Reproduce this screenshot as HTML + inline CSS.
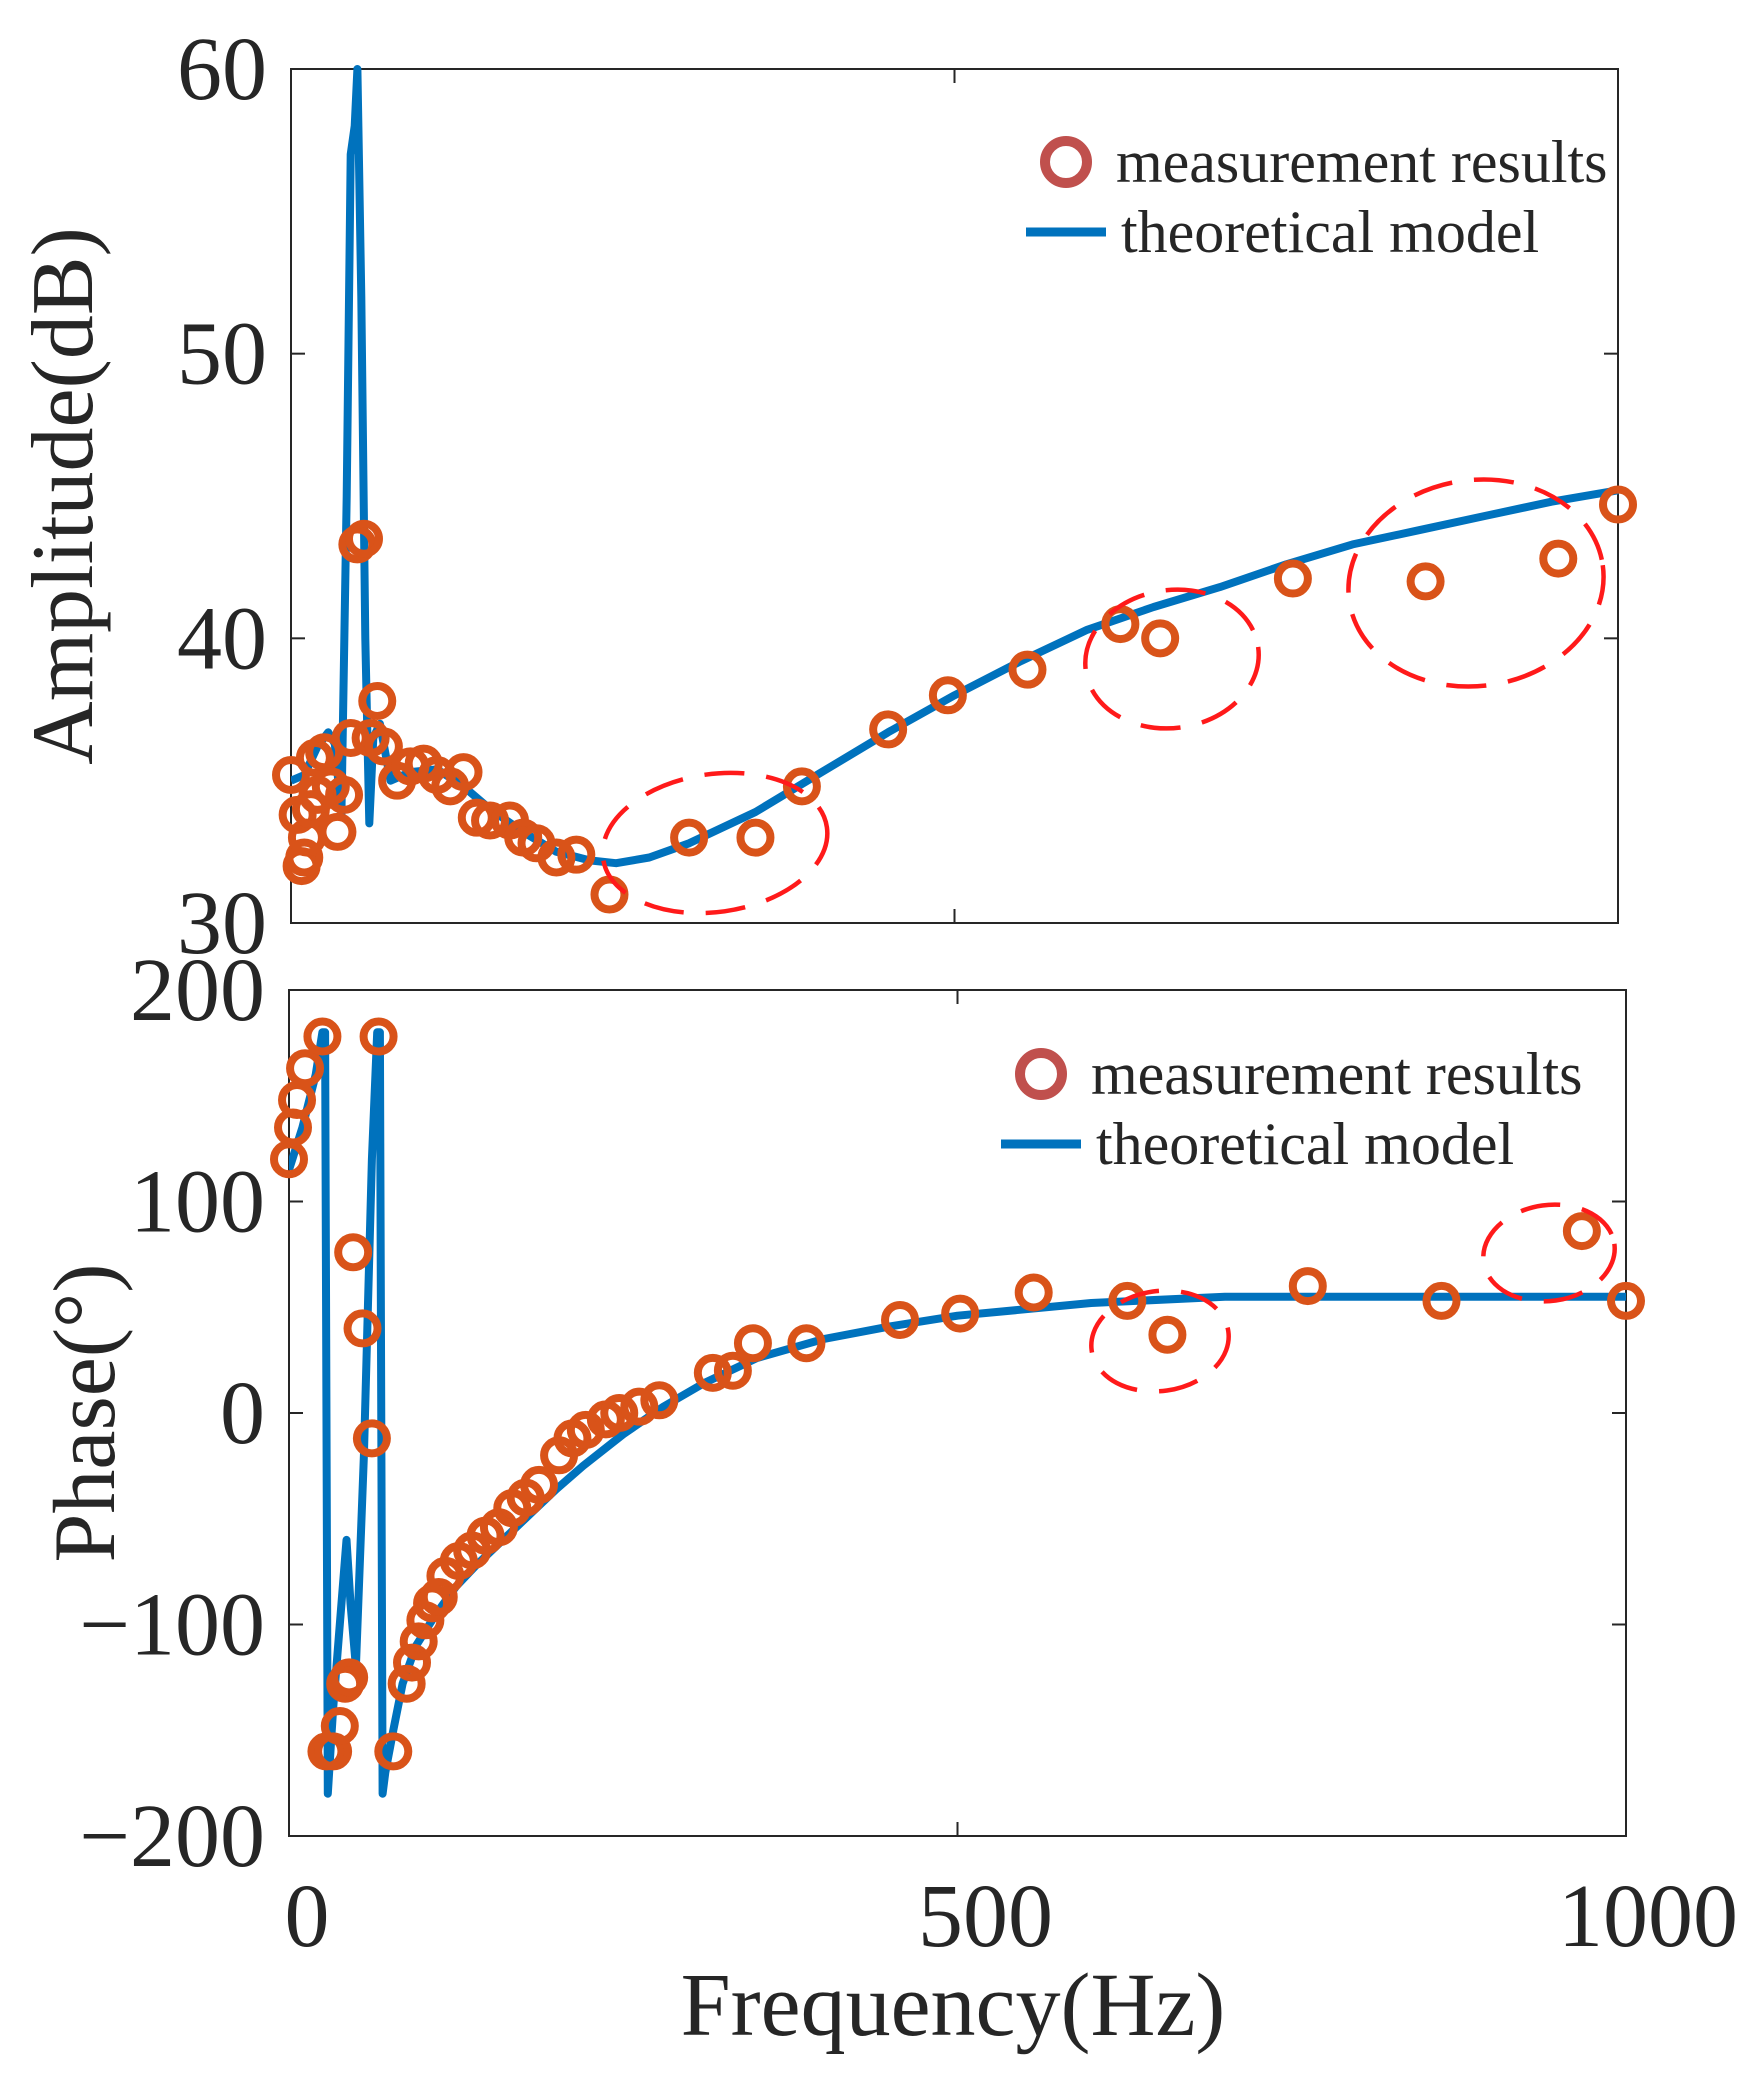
<!DOCTYPE html>
<html><head><meta charset="utf-8"><style>
html,body{margin:0;padding:0;background:#fff}
svg{display:block}
text{font-family:"Liberation Serif",serif;fill:#262626}
</style></head><body>
<svg width="1761" height="2073" viewBox="0 0 1761 2073" xmlns="http://www.w3.org/2000/svg">
<g id="g1"></g>
<g id="g2"></g>
<text x="953" y="2035" font-size="90" text-anchor="middle">Frequency(Hz)</text>
</svg>
<script>
const ampMeasHz=[0,5,8,10,12,15,18,20,25,30,35,40,45,50,55,60,65,70,80,90,100,110,120,130,140,150,165,175,185,200,215,240,300,350,385,450,495,555,625,655,755,855,955,1000];
const ampMeasDb=[35.2,33.8,32.0,32.3,33.0,34.0,35.8,34.5,36.0,34.8,33.2,34.5,36.5,43.3,43.5,36.5,37.8,36.2,35.0,35.5,35.6,35.2,34.8,35.3,33.7,33.6,33.6,33.0,32.8,32.3,32.4,31.0,33.0,33.0,34.8,36.8,38.0,38.9,40.5,40.0,42.1,42.0,42.8,44.7];
const ampModelHz=[0,10,20,28,33,38,42,45,48,50,53,56,59,62,67,75,90,110,130,150,175,200,225,245,270,300,350,400,450,500,550,600,650,700,750,800,850,900,950,1000];
const ampModelDb=[35,35.2,36.2,36.7,36.3,33.8,45,57,58,60,52,40,33.5,36.5,37,35,35.3,35.4,34.8,34,33.2,32.5,32.2,32.1,32.3,32.8,33.9,35.3,36.7,38,39.2,40.3,41.1,41.8,42.6,43.3,43.8,44.3,44.8,45.2];
const phMeasHz=[0,3,6,12,25,28,33,38,42,45,48,55,62,67,78,88,92,97,102,107,112,117,127,137,147,157,167,177,187,202,212,222,237,247,262,277,317,332,347,387,457,502,557,627,657,762,862,967,1000];
const phMeasDeg=[120,135,148,163,178,-160,-160,-148,-128,-125,76,40,-12,178,-160,-128,-118,-108,-98,-90,-87,-77,-70,-65,-58,-54,-45,-40,-34,-20,-12,-8,-3,0,3,6,19,20,33,33,44,47,57,53,37,60,53,86,53];
const phModelHz=[0,10,20,25,27,29,33,38,43,46,50,56,62,66,68,70,72,78,85,95,110,125,140,160,180,200,220,250,280,310,350,400,450,500,600,700,800,1000];
const phModelDeg=[115,135,160,180,180,-180,-140,-100,-60,-90,-120,-20,120,180,180,-180,-170,-150,-128,-110,-95,-82,-72,-60,-48,-36,-25,-10,3,14,26,35,41,46,52,55,55,55];
const ampTicks=[30,40,50,60];
const phTicks=[-200,-100,0,100,200];
const xTicks=[0,500,1000];
const NS="http://www.w3.org/2000/svg";
function mk(p,t,a){const e=document.createElementNS(NS,t);for(const k in a)e.setAttribute(k,a[k]);p.appendChild(e);return e;}
function panel(g,L,R,T,B,ymin,ymax,yt,mh,mv,lh,lv,ylab,showX,ells,leg){
 const sx=v=>L+(v-0)/(1000-0)*(R-L), sy=v=>B-(v-ymin)/(ymax-ymin)*(B-T);
 let r=mk(g,'rect',{x:L,y:T,width:R-L,height:B-T,fill:'none',stroke:'#262626','stroke-width':2});
 
 yt.forEach(v=>{const y=sy(v);
  let t=mk(g,'line',{x1:L,x2:L+14,y1:y,y2:y,stroke:'#262626','stroke-width':2});
  
  let t2=mk(g,'line',{x1:R,x2:R-14,y1:y,y2:y,stroke:'#262626','stroke-width':2});
  
  let tx=mk(g,'text',{x:L-24,y:y+30,'font-size':90,'text-anchor':'end'});tx.textContent=(v<0?'\u2212'+(-v):v);
  });
 xTicks.forEach(v=>{const x=sx(v);
  let t=mk(g,'line',{x1:x,x2:x,y1:B,y2:B-14,stroke:'#262626','stroke-width':2});
  
  let t2=mk(g,'line',{x1:x,x2:x,y1:T,y2:T+14,stroke:'#262626','stroke-width':2});
  
  if(showX){let tx=mk(g,'text',{x:x+(v==0?18:v==1000?22:28),y:B+110,'font-size':90,'text-anchor':'middle'});tx.textContent=v;
  }});
 let yl=mk(g,'text',{x:0,y:0,'font-size':88,'text-anchor':'middle',transform:`translate(${ylab[0]},${(T+B)/2}) rotate(-90)`});yl.textContent=ylab[1];
 
 let d=lh.map((h,i)=>(i?'L':'M')+sx(h).toFixed(1)+','+sy(lv[i]).toFixed(1)).join('');
 const cp=mk(g,'clipPath',{id:'c'+T});mk(cp,'rect',{x:L,y:T-6,width:R-L+8,height:B-T+12});
 let pl=mk(g,'path',{d:d,fill:'none',stroke:'#0072BD','stroke-width':8,'stroke-linejoin':'round','clip-path':`url(#c${T})`});
 
 mh.forEach((h,i)=>{let c=mk(g,'circle',{cx:sx(h),cy:sy(mv[i]),r:15,fill:'none',stroke:'#D95319','stroke-width':8});
  });
 ells.forEach(e=>{let el=mk(g,'ellipse',{cx:e[0],cy:e[1],rx:e[2],ry:e[3],fill:'none',stroke:'#FF1A1A','stroke-width':4.5,'stroke-dasharray':'40 22',transform:`rotate(-8 ${e[0]} ${e[1]})`});
  });
 let lc=mk(g,'circle',{cx:leg[0],cy:leg[1],r:21,fill:'none',stroke:'#C0504D','stroke-width':10});
 
 let t1=mk(g,'text',{x:leg[0]+50,y:leg[1]+20,'font-size':60});t1.textContent='measurement results';
 
 let ll=mk(g,'line',{x1:leg[0]-40,x2:leg[0]+40,y1:leg[1]+70,y2:leg[1]+70,stroke:'#0072BD','stroke-width':9});
 
 let t2=mk(g,'text',{x:leg[0]+55,y:leg[1]+90,'font-size':60});t2.textContent='theoretical model';
 
}
panel(document.getElementById('g1'),291,1618,69,923,30,60,ampTicks,ampMeasHz,ampMeasDb,ampModelHz,ampModelDb,[92,'Amplitude(dB)'],false,
 [[715,843,113,69],[1172,659,87,69],[1476,583,128,103]],[1066,162]);
panel(document.getElementById('g2'),289,1626,990,1836,-200,200,phTicks,phMeasHz,phMeasDeg,phModelHz,phModelDeg,[114,'Phase(°)'],true,
 [[1160,1341,69,50],[1549,1253,66,48]],[1041,1074]);
</script>
</body></html>
